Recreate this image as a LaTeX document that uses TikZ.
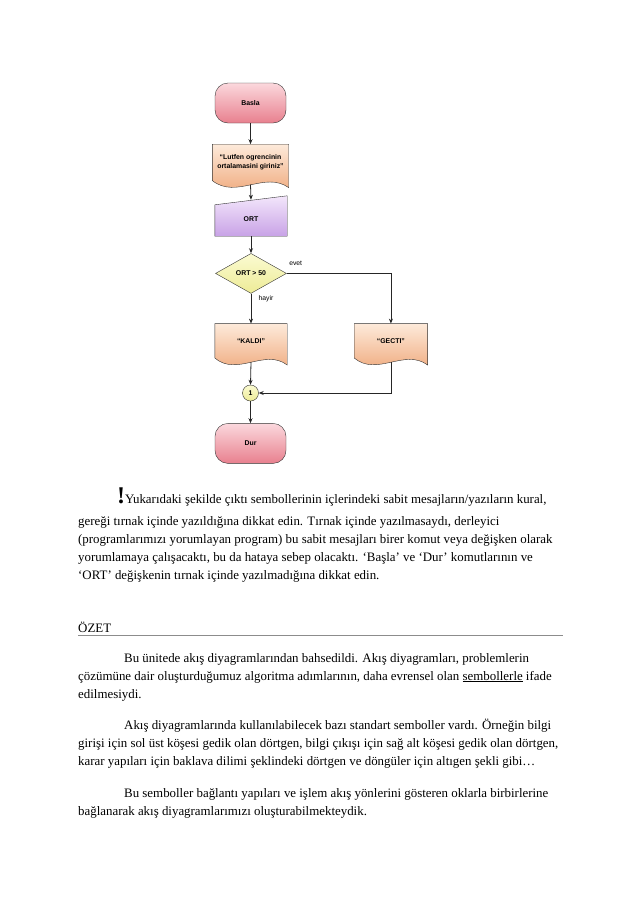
\documentclass[tikz,border=0pt]{standalone}
\usepackage{fontspec}
\setmainfont{Liberation Serif}
\newfontfamily\chartsans{Liberation Sans}
\usepackage{tikz}
\usetikzlibrary{shapes,arrows.meta,positioning,calc,backgrounds}

\definecolor{termtop}{RGB}{251,216,221}
\definecolor{termbot}{RGB}{232,128,142}
\definecolor{doctop}{RGB}{253,234,218}
\definecolor{docbot}{RGB}{238,162,114}
\definecolor{inptop}{RGB}{243,230,251}
\definecolor{inpbot}{RGB}{200,162,230}
\definecolor{dectop}{RGB}{251,251,210}
\definecolor{decbot}{RGB}{237,235,150}

% outline of a document box (wavy bottom)
\newcommand{\docshape}[1]{%
  \shade[draw=black!80, top color=doctop, bottom color=docbot]
    (#1.north west) -- (#1.north east) -- ($(#1.south east)+(0,7)$)
    .. controls ($(#1.south)+(14,-10)$) and ($(#1.south)+(-14,19)$) .. (#1.south west) -- cycle;}

\begin{document}
\begin{tikzpicture}[x=1pt, y=-1pt, >={Stealth[length=5pt,width=4pt]},
    chart/.style={inner sep=0pt, align=center, font=\chartsans\bfseries\fontsize{6.9}{8.4}\selectfont},
    term/.style={chart, rectangle, rounded corners=13pt, draw=black!80, top color=termtop, bottom color=termbot, minimum width=71pt, minimum height=40pt},
    docbox/.style={chart, rectangle, minimum width=76pt, minimum height=36pt},
    inbox/.style={chart, rectangle, minimum width=72pt, minimum height=34pt},
    decision/.style={chart, diamond, draw=black!80, top color=dectop, bottom color=decbot, minimum width=71pt, minimum height=40pt},
    joint/.style={chart, circle, draw=black!80, top color=dectop, bottom color=decbot, minimum size=16pt},
    lbl/.style={inner sep=0pt, font=\chartsans\fontsize{6.8}{8}\selectfont},
    flow/.style={->, black!85, line width=0.8pt},
    body/.style={inner sep=0pt, align=left, anchor=base west, font=\fontsize{12.9}{18}\selectfont}
]
    \useasboundingbox (0,0) rectangle (638,903);

    \node[term] (basla) at (250.5,103) {Basla};
    \node[docbox, below=21pt of basla] (lutfen) {“Lutfen ogrencinin\\ortalamasini giriniz”};
    \node[inbox] (ort) at (251,219) {ORT};
    \node[decision, below=17pt of ort] (kosul) {ORT {\textgreater} 50};
    \node[docbox, minimum width=72pt, minimum height=34pt, below=30pt of kosul] (kaldi) {“KALDI”};
    \node[docbox, minimum width=73pt, minimum height=34pt, right=67pt of kaldi] (gecti) {“GECTI”};
    \node[joint] (bag1) at (250.5,393) {1};
    \node[term, below=22pt of bag1] (dur) {Dur};

    \begin{pgfonlayer}{background}
        \docshape{lutfen}
        \docshape{kaldi}
        \docshape{gecti}
        \shade[draw=black!80, top color=inptop, bottom color=inpbot]
            ($(ort.north west)+(0,3)$) -- ($(ort.north east)+(0,-6)$) -- (ort.south east) -- (ort.south west) -- cycle;
    \end{pgfonlayer}

    \draw[flow] (basla) -- (lutfen);
    \draw[flow] ($(lutfen.south)+(0,4)$) -- ($(ort.north)+(0,-2)$);
    \draw[flow] (ort) -- (kosul);
    \draw[flow] (kosul.east) -| (gecti.north);
    \draw[flow] (kosul.south) -- (kaldi.north);
    \draw[flow] ($(kaldi.south)+(0,4)$) -- (bag1.north);
    \draw[flow] ($(gecti.south)+(0,4)$) |- (bag1.east);
    \draw[flow] (bag1) -- (dur);

    \node[lbl, anchor=center] (evet) at ($(kosul.east)+(9,-10)$) {evet};
    \node[lbl, anchor=center] (hayir) at ($(kosul.south)+(15,5)$) {hayir};

    % text below the chart (anchor = baseline of last line)
    \node[body] (not1) at (78,579) {\hspace*{39pt}{\fontsize{24}{18}\selectfont\bfseries !}Yukarıdaki şekilde çıktı sembollerinin içlerindeki sabit mesajların/yazıların kural,\\[4pt]
gereği tırnak içinde yazıldığına dikkat edin. Tırnak içinde yazılmasaydı, derleyici\\
(programlarımızı yorumlayan program) bu sabit mesajları birer komut veya değişken olarak\\
yorumlamaya çalışacaktı, bu da hataya sebep olacaktı. ‘Başla’ ve ‘Dur’ komutlarının ve\\
‘ORT’ değişkenin tırnak içinde yazılmadığına dikkat edin.};

    \node[body] (ozet) at (78,632) {ÖZET};
    \coordinate (cizgiA) at (78,635);
    \coordinate (cizgiB) at (563,635);
    \draw[black!45, line width=1pt] (cizgiA) -- (cizgiB);

    \node[body] (ozet1) at (78,698) {\hspace*{46pt}Bu ünitede akış diyagramlarından bahsedildi. Akış diyagramları, problemlerin\\
çözümüne dair oluşturduğumuz algoritma adımlarının, daha evrensel olan \underline{sembollerle} ifade\\
edilmesiydi.};

    \node[body] (ozet2) at (78,765) {\hspace*{46pt}Akış diyagramlarında kullanılabilecek bazı standart semboller vardı. Örneğin bilgi\\
girişi için sol üst köşesi gedik olan dörtgen, bilgi çıkışı için sağ alt köşesi gedik olan dörtgen,\\
karar yapıları için baklava dilimi şeklindeki dörtgen ve döngüler için altıgen şekli gibi…};

    \node[body] (ozet3) at (78,815) {\hspace*{46pt}Bu semboller bağlantı yapıları ve işlem akış yönlerini gösteren oklarla birbirlerine\\
bağlanarak akış diyagramlarımızı oluşturabilmekteydik.};
\end{tikzpicture}
\end{document}
